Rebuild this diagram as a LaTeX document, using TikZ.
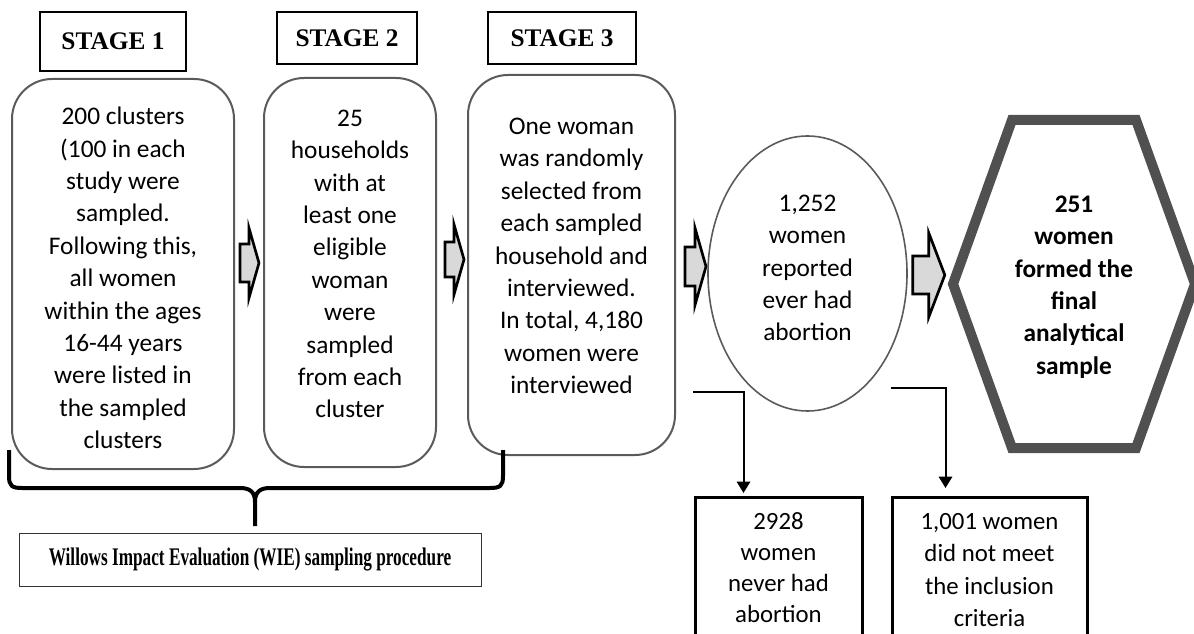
\documentclass[tikz,border=0pt]{standalone}
\usepackage{fontspec}
\setmainfont{Carlito}
\newfontfamily\stagefont{Liberation Serif}
\usepackage{tikz}
\usetikzlibrary{shapes.geometric,arrows.meta,calc}

\definecolor{framegray}{RGB}{90,90,90}
\definecolor{hexgray}{RGB}{80,80,80}

\tikzset{
  pics/fatarrow/.style args={#1/#2/#3/#4}{code={
    \draw[line width=2pt,line join=miter,fill=black!15]
      (0,-#3) -- (#1-#2,-#3) -- (#1-#2,-#4) -- (#1,0)
      -- (#1-#2,#4) -- (#1-#2,#3) -- (0,#3) -- cycle;
  }}
}

\begin{document}
\begin{tikzpicture}[x=0.75pt,y=-0.75pt,
    stagelabel/.style={draw,line width=1.5pt,inner sep=0pt,
      font=\stagefont\bfseries\fontsize{19}{23}\selectfont},
    roundbox/.style={draw=framegray,line width=1.5pt,rounded corners=30pt,inner sep=0pt},
    bodytext/.style={align=center,inner sep=0pt,font=\fontsize{19}{24.3}\selectfont},
    outbox/.style={draw,line width=2.25pt,inner sep=0pt,minimum height=190*0.75pt},
    outtext/.style={align=center,inner sep=0pt,font=\fontsize{18.6}{23.2}\selectfont},
    downarrow/.style={line width=1.5pt,-{Triangle[width=10pt,length=8.5pt]}}]
  \clip (0,0) rectangle (1194,634);

  % stage headings
  \node[stagelabel,minimum width=146*0.75pt,minimum height=59*0.75pt] (lab1) at (113,41.5) {STAGE 1};
  \node[stagelabel,minimum width=140*0.75pt,minimum height=52*0.75pt] (lab2) at (347,38) {STAGE 2};
  \node[stagelabel,minimum width=148*0.75pt,minimum height=52*0.75pt] (lab3) at (562,38) {STAGE 3};

  % the three stages
  \node[roundbox,minimum width=222*0.75pt,minimum height=390*0.75pt] (s1) at (123,274) {};
  \node[bodytext] (s1t) at (123,278) {200 clusters\\(100 in each\\study were\\sampled.\\Following this,\\all women\\within the ages\\16-44 years\\were listed in\\the sampled\\clusters};
  \node[roundbox,minimum width=172*0.75pt,minimum height=389*0.75pt] (s2) at (350,272.5) {};
  \node[bodytext] (s2t) at (350,264) {25\\households\\with at\\least one\\eligible\\woman\\were\\sampled\\from each\\cluster};
  \node[roundbox,minimum width=207*0.75pt,minimum height=380*0.75pt] (s3) at (571.5,265) {};
  \node[bodytext] (s3t) at (571.5,256) {One woman\\was randomly\\selected from\\each sampled\\household and\\interviewed.\\In total, 4,180\\women were\\interviewed};

  % women who ever had abortion
  \node[ellipse,draw=framegray,line width=1.2pt,inner sep=0pt,
        minimum width=199*0.75pt,minimum height=275*0.75pt] (ell) at (807.5,273.5) {};
  \node[bodytext] (ellt) at (807.5,268) {1,252\\women\\reported\\ever had\\abortion};

  % final sample
  \node[bodytext,font=\bfseries\fontsize{19}{24.3}\selectfont] (hex) at (1074,287) {251\\women\\formed the\\final\\analytical\\sample};
  \draw[hexgray,line width=7.5pt,line join=miter]
    ($(hex)+(-121,-3)$) -- ($(hex)+(-62,-167)$) -- ($(hex)+(62,-167)$)
    -- ($(hex)+(121,-3)$) -- ($(hex)+(62,161)$) -- ($(hex)+(-62,161)$) -- cycle;

  % block arrows between the steps
  \pic at ($(s1.east)+(5,-11)$) {fatarrow=19/10/19/35};
  \pic at ($(s2.east)+(8,-13)$) {fatarrow=19/10/17.5/35};
  \pic at ($(s3.east)+(9,1.5)$) {fatarrow=21/11/19.5/38.5};
  \pic at ($(ell.east)+(5,1.5)$) {fatarrow=32/16/19/42};

  % brace and procedure label
  \draw[line width=3pt]
    (9,450) -- (9,476) .. controls (9,486) and (12,488) .. (22,488)
    -- (240,488) .. controls (250,488) and (255,492) .. (255,502) -- (255,526)
    -- (255,502) .. controls (255,492) and (260,488) .. (270,488)
    -- (490,488) .. controls (500,488) and (503,486) .. (503,476) -- (503,450);
  \node[draw=black!80,line width=0.75pt,minimum width=462*0.75pt,minimum height=53*0.75pt,inner sep=0pt] (wie) at (250,559.5)
    {\scalebox{0.68}[1]{\stagefont\bfseries\fontsize{19}{23}\selectfont Willows Impact Evaluation (WIE) sampling procedure}};

  % exclusions
  \node[outbox,minimum width=167*0.75pt,anchor=north] (n1) at (778.5,496) {};
  \node[outtext] (n1t) at (778.5,568) {2928\\women\\never had\\abortion};
  \node[outbox,minimum width=195*0.75pt,anchor=north] (n2) at (989.5,496) {};
  \node[outtext,font=\fontsize{18.6}{24.3}\selectfont] (n2t) at (989.5,570) {1,001 women\\did not meet\\the inclusion\\criteria};

  \coordinate (c1) at ($(s3.east)+(17,127)$);
  \coordinate (c2) at ($(ell.east)+(-17,114.5)$);
  \draw[downarrow] (c1) -| ($(n1.north west)+(50,-3)$);
  \draw[downarrow] (c2) -| ($(n2.north west)+(55,-8)$);
\end{tikzpicture}
\end{document}
